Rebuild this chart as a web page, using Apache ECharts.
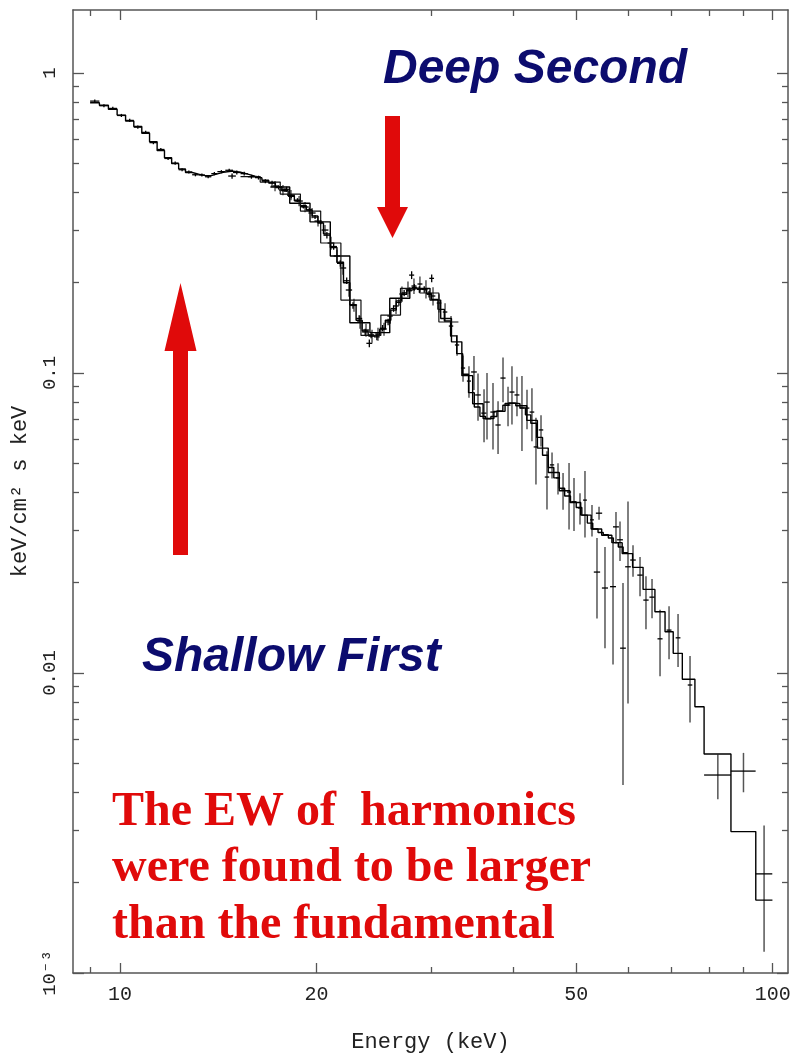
<!DOCTYPE html>
<html lang="en">
<head>
<meta charset="UTF-8">
<title>Spectrum</title>
<style>
  html, body { margin: 0; padding: 0; background: #fff; }
  #main { width: 795px; height: 1055px; }
</style>
</head>
<body>
<div id="main"></div>
<script src="https://cdn.jsdelivr.net/npm/echarts@6/dist/echarts.min.js"></script>
<script>
// fine-binned model (bin edges in keV, flux per bin)
var fineEdges = [9.0, 9.3, 9.6, 9.9, 10.2, 10.5, 10.8, 11.1, 11.4, 11.7, 12.0, 12.3, 12.6, 12.9, 13.2, 13.5, 13.8, 14.1, 14.5, 14.9,
  15.3, 15.7, 16.1, 16.5, 16.9, 17.3, 17.7, 18.1, 18.5, 18.9, 19.3, 19.7, 20.1, 20.5, 21.0, 21.5, 22.0, 22.5, 23.0, 23.5,
  24.0, 24.5, 25.0, 25.5, 26.0, 26.5, 27.0, 27.5, 28.0, 28.5, 29.0, 29.5, 30.0, 30.7, 31.4, 32.1, 32.8, 33.5, 34.2, 34.9,
  35.6, 36.3, 37.0, 37.8, 38.6, 39.4, 40.2, 41.0, 41.8, 42.6, 43.5, 44.4, 45.3, 46.2, 47.1, 48.0, 49.0, 50.0, 51.0, 52.0,
  53.0, 54.0, 55.0, 56.0, 57.0, 58.0, 59.0, 60.0];
var fineVals = [0.796, 0.781, 0.757, 0.724, 0.692, 0.663, 0.630, 0.590, 0.552, 0.522, 0.499, 0.479, 0.466, 0.460, 0.455, 0.455,
  0.461, 0.468, 0.471, 0.467, 0.460, 0.453, 0.447, 0.439, 0.430, 0.418, 0.405, 0.390, 0.375, 0.361, 0.349, 0.334, 0.316,
  0.291, 0.262, 0.234, 0.200, 0.169, 0.150, 0.138, 0.133, 0.134, 0.140, 0.150, 0.162, 0.174, 0.183, 0.189, 0.1915, 0.191,
  0.189, 0.184, 0.176, 0.163, 0.149, 0.133, 0.116, 0.099, 0.086, 0.077, 0.0717, 0.0703, 0.0716, 0.0748, 0.0781, 0.0794,
  0.0790, 0.0765, 0.0725, 0.0680, 0.0610, 0.0532, 0.0484, 0.0447, 0.0413, 0.0389, 0.0372, 0.0356, 0.0336, 0.0316, 0.0302,
  0.0294, 0.0289, 0.0282, 0.0272, 0.0263, 0.0252];

// coarse model A
var coarseEdges = [17.0, 18.2, 19.55, 21.0, 22.5, 24.15, 25.9, 27.8, 29.85, 31.0, 32.2, 33.4, 34.7, 36.0, 37.4, 38.9, 40.4,
  42.0, 43.6, 45.3, 47.1, 48.9, 50.8, 52.7, 54.7, 56.7, 58.8, 61.0, 63.3, 66.0, 68.4, 70.4, 72.7, 76.0, 78.5, 86.3, 94.2, 99.9];
var coarseVals = [0.417, 0.368, 0.319, 0.2455, 0.147, 0.1363, 0.1774, 0.1915, 0.175, 0.152, 0.127, 0.098, 0.079, 0.0705,
  0.0745, 0.0792, 0.0778, 0.0695, 0.0562, 0.0466, 0.0405, 0.0370, 0.0336, 0.0302, 0.0288, 0.0272, 0.0250, 0.0225, 0.0190,
  0.0160, 0.01373, 0.01163, 0.00953, 0.00772, 0.00537, 0.00296, 0.00175];

// coarse model B
var coarse2Edges = [15.3, 16.4, 17.6, 18.9, 20.3, 21.8, 23.4, 25.1, 26.9, 28.8, 30.8, 33.0];
var coarse2Vals = [0.4516, 0.433, 0.395, 0.3467, 0.2712, 0.175, 0.1334, 0.156, 0.1915, 0.1848, 0.1479];

// low-energy data points
var pcaE = [9.15, 9.45, 9.75, 10.05, 10.35, 10.65, 10.95, 11.25, 11.55, 11.85, 12.15, 12.45, 12.75, 13.05, 13.35, 13.65, 13.95,
  14.3, 14.7, 14.85, 15.1, 15.5, 15.9, 16.3, 16.7, 17.1, 17.5, 17.9, 18.0, 18.3, 18.7, 19.1, 19.5, 19.9, 20.3,
  20.75, 21.25, 21.75, 22.25, 22.75, 23.25, 23.75, 24.1, 24.25, 24.75, 25.25, 25.75, 26.25, 26.75, 27.25, 27.75, 27.98,
  28.25, 28.75, 29.25, 29.75, 30.03];
var pcaF = [0.806, 0.778, 0.762, 0.722, 0.695, 0.660, 0.634, 0.586, 0.556, 0.519, 0.501, 0.476, 0.468, 0.458, 0.457, 0.451, 0.462,
  0.469, 0.474, 0.4535, 0.466, 0.462, 0.451, 0.448, 0.436, 0.431, 0.415, 0.407, 0.4097, 0.388, 0.377, 0.359, 0.350, 0.331, 0.318,
  0.288, 0.264, 0.232, 0.203, 0.168, 0.152, 0.137, 0.1256, 0.134, 0.132, 0.141, 0.148, 0.164, 0.172, 0.185, 0.188, 0.212,
  0.193, 0.190, 0.190, 0.183, 0.2068];
var pcaHalfWidth = [0.15, 0.15, 0.15, 0.15, 0.15, 0.15, 0.15, 0.15, 0.15, 0.15, 0.15, 0.15, 0.15, 0.15, 0.15, 0.15, 0.15,
  0.2, 0.2, 0.2, 0.2, 0.2, 0.2, 0.2, 0.2, 0.2, 0.2, 0.2, 0.2, 0.2, 0.2, 0.2, 0.2, 0.2, 0.2,
  0.25, 0.25, 0.25, 0.25, 0.25, 0.25, 0.25, 0.25, 0.25, 0.25, 0.25, 0.25, 0.25, 0.25, 0.25, 0.25, 0.25,
  0.25, 0.25, 0.25, 0.25, 0.25];
var pcaRelErr = [0.012, 0.012, 0.012, 0.012, 0.012, 0.012, 0.012, 0.012, 0.012, 0.012, 0.012, 0.012, 0.012, 0.012, 0.012, 0.012, 0.012,
  0.012, 0.012, 0.02, 0.015, 0.015, 0.015, 0.015, 0.015, 0.015, 0.015, 0.015, 0.02, 0.015, 0.015, 0.015, 0.015, 0.015, 0.015,
  0.025, 0.025, 0.025, 0.025, 0.025, 0.025, 0.025, 0.03, 0.025, 0.025, 0.025, 0.025, 0.025, 0.025, 0.025, 0.025, 0.03,
  0.025, 0.025, 0.025, 0.025, 0.03];

// high-energy data points
var hexE = [17.28, 17.77, 18.28, 18.81, 19.21, 19.69, 20.11, 20.61, 21.05, 21.50, 21.96, 22.43, 22.83, 23.32, 23.82, 24.33,
  24.85, 25.38, 25.93, 26.48, 27.04, 27.62, 28.21, 28.81, 29.43, 30.17, 30.82, 31.48, 32.15, 32.84, 33.54, 34.25,
  34.86, 35.36, 36.12, 36.50, 37.28, 37.95, 38.62, 39.31, 39.86, 40.57, 41.29, 42.03, 42.77, 43.38, 44.16, 45.10,
  45.91, 46.89, 47.73, 48.75, 49.61, 50.67, 51.57, 52.86, 53.80, 54.19, 55.34, 56.93, 57.53, 58.35, 58.97, 60.02,
  61.09, 62.62, 63.95, 65.33, 67.20, 69.37, 71.61, 74.70, 82.4, 90.2, 97.0];
var hexF = [0.4201, 0.4074, 0.3921, 0.3744, 0.3576, 0.3415, 0.3210, 0.2996, 0.2712, 0.2455, 0.2239, 0.1891, 0.1685, 0.1479,
  0.1391, 0.1328, 0.1349, 0.1402, 0.1549, 0.1673, 0.1834, 0.1905, 0.1950, 0.1980, 0.1905, 0.1806, 0.1711, 0.1597, 0.1434,
  0.1240, 0.1039, 0.0940, 0.1008, 0.0845, 0.0735, 0.0800, 0.0741, 0.0671, 0.0962, 0.0782, 0.0864, 0.0845, 0.0764, 0.0764,
  0.0741, 0.0567, 0.0646, 0.0450, 0.0494, 0.0447, 0.0407, 0.0401, 0.0372, 0.0355, 0.0377, 0.0324, 0.0217, 0.0341, 0.0192,
  0.0194, 0.0307, 0.0278, 0.0121, 0.0226, 0.0238, 0.0212, 0.0175, 0.0179, 0.0130, 0.0139, 0.0131, 0.00912, 0.00457,
  0.00471, 0.00214];
var hexHalfWidth = [0.25, 0.25, 0.25, 0.25, 0.25, 0.25, 0.25, 0.25, 0.25, 0.25, 0.25, 0.25, 0.25, 0.25, 0.25, 0.25,
  0.25, 0.25, 0.25, 0.25, 0.25, 0.25, 0.25, 0.25, 0.25, 0.25, 0.25, 0.25, 0.25, 0.25, 0.25, 0.25,
  0.35, 0.35, 0.35, 0.35, 0.35, 0.35, 0.35, 0.35, 0.35, 0.35, 0.35, 0.35, 0.35, 0.35, 0.35, 0.35,
  0.35, 0.35, 0.35, 0.35, 0.35, 0.35, 0.35, 0.35, 0.6, 0.6, 0.6, 0.6, 0.6, 0.6, 0.6, 0.6,
  0.6, 0.6, 0.6, 0.6, 0.6, 0.6, 0.6, 0.6, 3.9, 3.95, 2.85];
var hexRelErr = [0.04, 0.04, 0.04, 0.04, 0.04, 0.04, 0.04, 0.04, 0.05, 0.05, 0.05, 0.05, 0.05, 0.05, 0.05, 0.05,
  0.05, 0.05, 0.06, 0.06, 0.06, 0.06, 0.06, 0.06, 0.07, 0.07, 0.07, 0.07, 0.08, 0.08, 0.1, 0.12,
  0.13, 0.18, 0.2, 0.25, 0.25, 0.2, 0.17, 0.15, 0.22, 0.15, 0.28, 0.15, 0.2, 0.25, 0.12, 0.22,
  0.1, 0.12, 0.14, 0.25, 0.2, 0.12, 0.25, 0.12, 0.3, 0.05, 0.37, 0.45, 0.12, 0.15, 0.65, 0.65,
  0.12, 0.15, 0.2, 0.15, 0.25, 0.2, 0.2, 0.25, 0.17, 0.15, 0.45];

// axis ticks
var xMajorTicks = [10, 20, 50, 100];
var xMinorTicks = [9, 30, 40, 60, 70, 80, 90];
var yMajorTicks = [0.001, 0.01, 0.1, 1];
var yMinorTicks = [0.002, 0.003, 0.004, 0.005, 0.006, 0.007, 0.008, 0.009,
  0.02, 0.03, 0.04, 0.05, 0.06, 0.07, 0.08, 0.09,
  0.2, 0.3, 0.4, 0.5, 0.6, 0.7, 0.8, 0.9];
var yTickLabels = {'0.001': '10\u207B\u00B3', '0.01': '0.01', '0.1': '0.1', '1': '1'};

var X_MIN = 8.473, X_MAX = 105.54, Y_MIN = 0.001, Y_MAX = 1.622;
var FRAME = '#555';
var MONO = '"Liberation Mono", "DejaVu Sans Mono", monospace';

function steps(edges, vals) {
  var out = [];
  for (var i = 0; i < vals.length; i++) out.push([edges[i], vals[i]]);
  out.push([edges[edges.length - 1], vals[vals.length - 1]]);
  return out;
}
function points(e, f, w, r) {
  return e.map(function (v, i) { return [v, f[i], w[i], r[i]]; });
}

function crossRenderer(hColor, vColor, vWidth) {
  return function (params, api) {
    var e = api.value(0), f = api.value(1), w = api.value(2), r = api.value(3);
    var l = api.coord([e - w, f]), rr = api.coord([e + w, f]);
    var t = api.coord([e, f * (1 + r)]), b = api.coord([e, f * (1 - r)]);
    return {
      type: 'group',
      children: [
        { type: 'line', shape: { x1: t[0], y1: t[1], x2: b[0], y2: b[1] }, style: { stroke: vColor, lineWidth: vWidth } },
        { type: 'line', shape: { x1: l[0], y1: l[1], x2: rr[0], y2: rr[1] }, style: { stroke: hColor, lineWidth: 1.3 } }
      ]
    };
  };
}

function xAxisDef(pos, ticks, len, showLabel, showLine) {
  return {
    type: 'log', logBase: 10, position: pos, min: X_MIN, max: X_MAX,
    axisLine: { show: showLine, onZero: false, lineStyle: { color: FRAME, width: 1.5 } },
    axisTick: { show: true, inside: true, length: len, customValues: ticks, lineStyle: { color: FRAME, width: 1.3 } },
    axisLabel: showLabel ? {
      show: true, customValues: ticks, margin: 12, color: '#222', fontFamily: MONO, fontSize: 20
    } : { show: false },
    splitLine: { show: false },
    minorTick: { show: false }
  };
}
function yAxisDef(pos, ticks, len, showLabel, showLine) {
  return {
    type: 'log', logBase: 10, position: pos, min: Y_MIN, max: Y_MAX,
    axisLine: { show: showLine, onZero: false, lineStyle: { color: FRAME, width: 1.5 } },
    axisTick: { show: true, inside: true, length: len, customValues: ticks, lineStyle: { color: FRAME, width: 1.3 } },
    axisLabel: showLabel ? {
      show: true, customValues: ticks, margin: 14, rotate: 90, color: '#222', fontFamily: MONO, fontSize: 19,
      formatter: function (v) { return yTickLabels[String(+v.toPrecision(6))] || ''; }
    } : { show: false },
    splitLine: { show: false }
  };
}

var xBottom = xAxisDef('bottom', xMajorTicks, 10, true, true);
xBottom.name = 'Energy (keV)';
xBottom.nameLocation = 'middle';
xBottom.nameGap = 58;
xBottom.nameTextStyle = { color: '#222', fontFamily: MONO, fontSize: 22 };

var yLeft = yAxisDef('left', yMajorTicks, 11, true, true);
yLeft.name = 'keV/cm\u00B2 s keV';
yLeft.nameLocation = 'middle';
yLeft.nameGap = 42;
yLeft.nameTextStyle = { color: '#222', fontFamily: MONO, fontSize: 22 };

var myChart = echarts.init(document.getElementById('main'), null, { renderer: 'canvas' });
var option = {
  backgroundColor: '#fff',
  animation: false,
  grid: { left: 73, right: 7, top: 10, bottom: 82, containLabel: false, outerBoundsMode: 'none' },
  xAxis: [
    xBottom,
    xAxisDef('bottom', xMinorTicks, 6, false, false),
    xAxisDef('top', xMajorTicks, 10, false, true),
    xAxisDef('top', xMinorTicks, 6, false, false)
  ],
  yAxis: [
    yLeft,
    yAxisDef('left', yMinorTicks, 6, false, false),
    yAxisDef('right', yMajorTicks, 11, false, true),
    yAxisDef('right', yMinorTicks, 6, false, false)
  ],
  series: [
    {
      name: 'model fine', type: 'line', step: 'end', symbol: 'none', silent: true,
      data: steps(fineEdges, fineVals),
      lineStyle: { color: '#000', width: 1.4 }
    },
    {
      name: 'model coarse A', type: 'line', step: 'end', symbol: 'none', silent: true,
      data: steps(coarseEdges, coarseVals),
      lineStyle: { color: '#000', width: 1.4 }
    },
    {
      name: 'model coarse B', type: 'line', step: 'end', symbol: 'none', silent: true,
      data: steps(coarse2Edges, coarse2Vals),
      lineStyle: { color: '#111', width: 1.2 }
    },
    {
      name: 'data high', type: 'custom', silent: true,
      renderItem: crossRenderer('#000', '#555', 1.5),
      data: points(hexE, hexF, hexHalfWidth, hexRelErr),
      z: 3
    },
    {
      name: 'data low', type: 'custom', silent: true,
      renderItem: crossRenderer('#000', '#000', 1.3),
      data: points(pcaE, pcaF, pcaHalfWidth, pcaRelErr),
      z: 4
    }
  ],
  graphic: [
    {
      type: 'polygon', z: 10,
      shape: { points: [[385, 116], [400, 116], [400, 207], [408, 207], [392.5, 238], [377, 207], [385, 207]] },
      style: { fill: '#e00a0a' }
    },
    {
      type: 'polygon', z: 10,
      shape: { points: [[173, 555], [188, 555], [188, 351], [196.5, 351], [180.5, 283], [164.5, 351], [173, 351]] },
      style: { fill: '#e00a0a' }
    },
    {
      type: 'text', z: 10,
      style: {
        text: 'Deep Second', x: 383, y: 70, fill: '#0c0c6e',
        font: 'italic bold 48px "Liberation Sans", Arial, sans-serif',
        textVerticalAlign: 'middle', verticalAlign: 'middle'
      }
    },
    {
      type: 'text', z: 10,
      style: {
        text: 'Shallow First', x: 142, y: 658, fill: '#0c0c6e',
        font: 'italic bold 48px "Liberation Sans", Arial, sans-serif',
        textVerticalAlign: 'middle', verticalAlign: 'middle'
      }
    },
    {
      type: 'text', z: 10,
      style: {
        text: 'The EW of  harmonics\nwere found to be larger\nthan the fundamental',
        x: 112, y: 784, fill: '#e00a0a', lineHeight: 56.5,
        font: 'bold 48px "Liberation Serif", "Times New Roman", serif',
        textVerticalAlign: 'top', verticalAlign: 'top'
      }
    }
  ]
};
myChart.setOption(option);
</script>
</body>
</html>
